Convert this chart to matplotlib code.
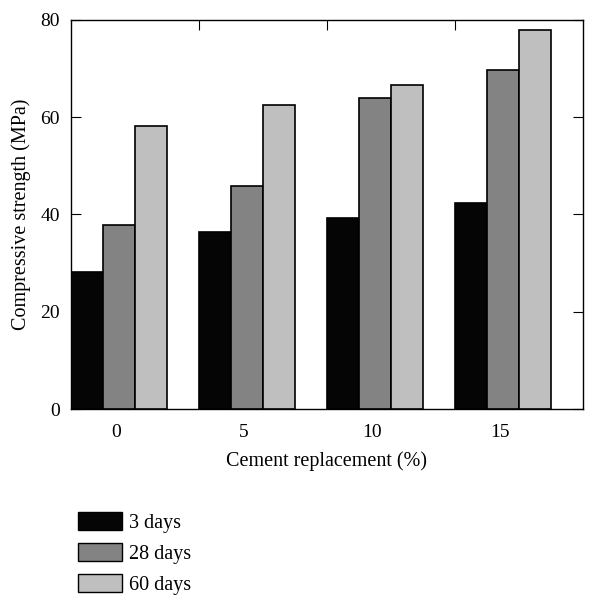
import numpy as np
import matplotlib
matplotlib.use("Agg")
import matplotlib.pyplot as plt
from matplotlib.patches import Patch

plt.rcParams['font.family'] = ['Liberation Serif', 'DejaVu Serif']

replacement = ['0', '5', '10', '15']
ages = ['3 days', '28 days', '60 days']
strength_3d = [28.1, 36.5, 39.2, 42.4]
strength_28d = [37.9, 45.8, 63.9, 69.7]
strength_60d = [58.1, 62.5, 66.6, 77.9]
colors = ['#050505', '#838383', '#bfbfbf']

fig = plt.figure(figsize=(5.9, 5.95), dpi=100)
ax = fig.add_axes([0.1203, 0.3126, 0.8678, 0.6538])

x = np.arange(len(replacement))
w = 0.25
series = [strength_3d, strength_28d, strength_60d]
for k, (vals, c) in enumerate(zip(series, colors)):
    ax.bar(x - 0.5 + k * w, vals, width=w, align='edge', color=c,
           edgecolor='black', linewidth=1.2, zorder=3)

ax.set_xlim(-0.5, 3.5)
ax.set_ylim(0, 80)
ax.set_yticks([0, 20, 40, 60, 80])

# group boundaries get the tick marks, labels sit under each group
ax.set_xticks(x[:-1] + 0.5)
ax.set_xticklabels([])
ax.set_xticks(x - 0.15, minor=True)
ax.set_xticklabels(replacement, minor=True)
ax.tick_params(axis='x', which='minor', length=0, pad=11, labelsize=14)
ax.tick_params(axis='both', which='major', direction='in', length=7,
               top=True, right=True, labelsize=14)
ax.tick_params(axis='y', pad=8)

for s in ax.spines.values():
    s.set_linewidth(1.0)

ax.set_xlabel('Cement replacement (%)', fontsize=14.5, labelpad=7)
ax.set_ylabel('Compressive strength (MPa)', fontsize=14.5, labelpad=7)

handles = [Patch(facecolor=c, edgecolor='black', linewidth=1.0) for c in colors]
fig.legend(handles, ages, loc='upper left', bbox_to_anchor=(0.132, 0.139),
           frameon=False, fontsize=14.5, handlelength=2.2, handleheight=1.0,
           labelspacing=0.5, handletextpad=0.35, borderaxespad=0,
           borderpad=0)

fig.savefig('out.png', dpi=100)
